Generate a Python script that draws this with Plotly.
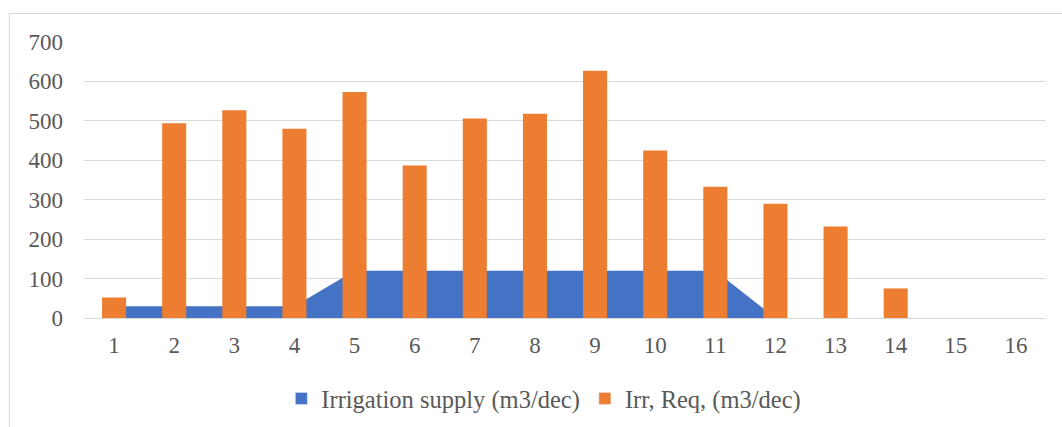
import plotly.graph_objects as go

categories = list(range(1, 17))
tick_labels = [str(c) for c in categories]
irrigation_supply = [30, 30, 30, 30, 120, 120, 120, 120, 120, 120, 120, 0, 0, 0, 0, 0]
irr_req = [52, 494, 527, 480, 573, 387, 506, 518, 627, 425, 333, 290, 232, 75, 0, 0]

BLUE = "#4472C4"
ORANGE = "#ED7D31"
FONT = "Liberation Serif, Times New Roman, serif"
GRAY = "#595959"

fig = go.Figure()

# area (base subplot)
fig.add_trace(go.Scatter(
    x=categories, y=irrigation_supply, mode="none", fill="tozeroy",
    fillcolor=BLUE, showlegend=False, hoverinfo="skip",
))
# bars on overlay axes so they draw above the area
fig.add_trace(go.Bar(
    x=categories, y=irr_req, marker=dict(color=ORANGE, line=dict(width=0)),
    width=0.4, xaxis="x2", yaxis="y2", showlegend=False,
))
# legend entries
fig.add_trace(go.Bar(x=[None], y=[None], marker_color=BLUE,
                     name="Irrigation supply (m3/dec)", xaxis="x2", yaxis="y2"))
fig.add_trace(go.Bar(x=[None], y=[None], marker_color=ORANGE,
                     name="Irr, Req, (m3/dec)", xaxis="x2", yaxis="y2"))

xr = [0.5, 16.5]
yr = [0, 700]

fig.update_layout(
    width=1062, height=427,
    margin=dict(l=84, r=16, t=42, b=109, autoexpand=False),
    paper_bgcolor="white", plot_bgcolor="white",
    font=dict(family=FONT, size=23, color=GRAY),
    barmode="overlay",
    xaxis=dict(range=xr, tickmode="array", tickvals=categories, ticktext=tick_labels,
               showgrid=False, zeroline=False, showline=True, linecolor="#d9d9d9",
               linewidth=1, ticks="", ticklabelstandoff=6,
               tickfont=dict(family=FONT, size=23, color=GRAY), fixedrange=True),
    yaxis=dict(range=yr, tickmode="array", tickvals=list(range(0, 701, 100)),
               showgrid=True, gridcolor="#d9d9d9", gridwidth=1, zeroline=False,
               showline=False, ticks="", ticklabelstandoff=20,
               tickfont=dict(family=FONT, size=23, color=GRAY)),
    xaxis2=dict(range=xr, overlaying="x", visible=False, showgrid=False),
    yaxis2=dict(range=yr, overlaying="y", visible=False, showgrid=False),
    legend=dict(orientation="h", x=0.478, xanchor="center", y=-0.21, yanchor="top",
                font=dict(family=FONT, size=24.5, color=GRAY), itemwidth=30,
                traceorder="normal"),
    shapes=[dict(type="rect", xref="paper", yref="paper",
                 x0=-0.0774, x1=1.2, y0=-0.6, y1=1.1033,
                 line=dict(color="#d9d9d9", width=1), fillcolor="rgba(0,0,0,0)",
                 layer="below")],
)

fig.write_html("out.html")
